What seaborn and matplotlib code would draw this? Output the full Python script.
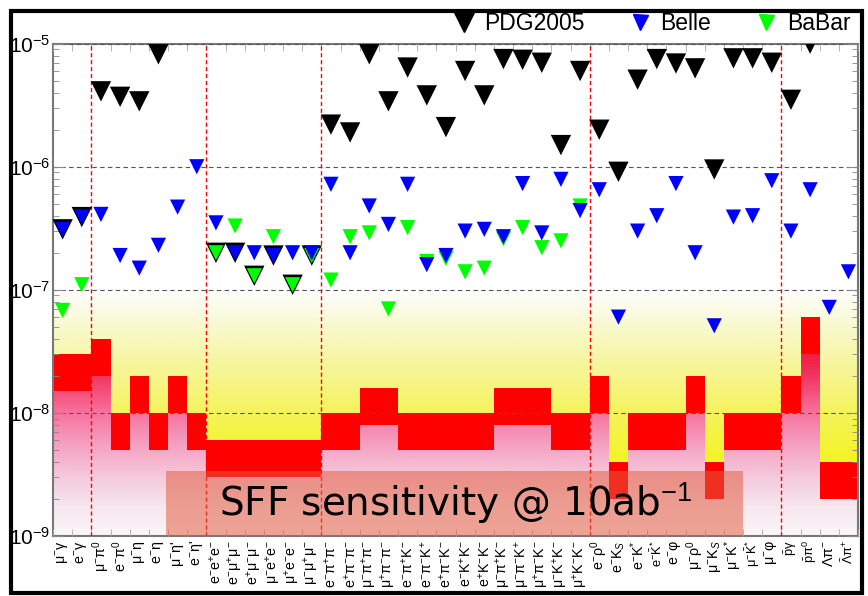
import numpy as np
import pandas as pd
import matplotlib
matplotlib.use("Agg")
import matplotlib.pyplot as plt
import seaborn as sns
from matplotlib.colors import LinearSegmentedColormap
from matplotlib.path import Path
from matplotlib.lines import Line2D
from matplotlib.patches import Rectangle
from matplotlib.ticker import LogLocator, NullFormatter, FixedLocator

plt.rcParams['font.family'] = ['Liberation Sans', 'DejaVu Sans']
plt.rcParams['mathtext.fontset'] = 'custom'
plt.rcParams['mathtext.rm'] = 'Liberation Sans'
plt.rcParams['mathtext.it'] = 'Liberation Sans:italic'
plt.rcParams['mathtext.bf'] = 'Liberation Sans:bold'

nan = np.nan

# tau LFV decay modes (x axis)
modes = [
    "μ$^{-}$γ", "e$^{-}$γ",
    "μ$^{-}$π$^{0}$", "e$^{-}$π$^{0}$", "μ$^{-}$η", "e$^{-}$η", "μ$^{-}$η'", "e$^{-}$η'",
    "e$^{-}$e$^{+}$e$^{-}$", "e$^{-}$μ$^{+}$μ$^{-}$", "e$^{+}$μ$^{-}$μ$^{-}$",
    "μ$^{-}$e$^{+}$e$^{-}$", "μ$^{+}$e$^{-}$e$^{-}$", "μ$^{-}$μ$^{+}$μ$^{-}$",
    "e$^{-}$π$^{+}$π$^{-}$", "e$^{+}$π$^{-}$π$^{-}$", "μ$^{-}$π$^{+}$π$^{-}$", "μ$^{+}$π$^{-}$π$^{-}$",
    "e$^{-}$π$^{+}$K$^{-}$", "e$^{-}$π$^{-}$K$^{+}$", "e$^{+}$π$^{-}$K$^{-}$",
    "e$^{-}$K$^{+}$K$^{-}$", "e$^{+}$K$^{-}$K$^{-}$",
    "μ$^{-}$π$^{+}$K$^{-}$", "μ$^{-}$π$^{-}$K$^{+}$", "μ$^{+}$π$^{-}$K$^{-}$",
    "μ$^{-}$K$^{+}$K$^{-}$", "μ$^{+}$K$^{-}$K$^{-}$",
    "e$^{-}$ρ$^{0}$", "e$^{-}$K$_{S}$", "e$^{-}$K$^{*}$", r"e$^{-}\bar{\mathrm{K}}^{*}$", "e$^{-}$φ",
    "μ$^{-}$ρ$^{0}$", "μ$^{-}$K$_{S}$", "μ$^{-}$K$^{*}$", r"μ$^{-}\bar{\mathrm{K}}^{*}$", "μ$^{-}$φ",
    r"$\bar{\mathrm{p}}$γ", r"$\bar{\mathrm{p}}$π$^{0}$", "Λπ$^{-}$", r"$\bar{\Lambda}$π$^{+}$",
]

# upper limits
pdg2005 = [3.1e-7, 3.9e-7,
           4.1e-6, 3.7e-6, 3.4e-6, 8.2e-6, nan, nan,
           2.0e-7, 2.0e-7, 1.3e-7, 1.9e-7, 1.1e-7, 1.9e-7,
           2.2e-6, 1.9e-6, 8.2e-6, 3.4e-6, 6.4e-6, 3.8e-6, 2.1e-6,
           6.0e-6, 3.8e-6, 7.5e-6, 7.4e-6, 7.0e-6, 1.5e-6, 6.0e-6,
           2.0e-6, 9.1e-7, 5.1e-6, 7.5e-6, 6.9e-6, 6.3e-6, 9.5e-7, 7.6e-6, 7.6e-6, 7.0e-6,
           3.5e-6, 1.0e-5, nan, nan]
belle = [3.1e-7, 3.9e-7,
         4.1e-7, 1.9e-7, 1.5e-7, 2.3e-7, 4.7e-7, 1.0e-6,
         3.5e-7, 2.0e-7, 2.0e-7, 1.9e-7, 2.0e-7, 2.0e-7,
         7.2e-7, 2.0e-7, 4.8e-7, 3.4e-7, 7.2e-7, 1.6e-7, 1.9e-7,
         3.0e-7, 3.1e-7, 2.7e-7, 7.3e-7, 2.9e-7, 7.9e-7, 4.4e-7,
         6.5e-7, 6.0e-8, 3.0e-7, 4.0e-7, 7.3e-7, 2.0e-7, 5.1e-8, 3.9e-7, 4.0e-7, 7.7e-7,
         3.0e-7, 6.5e-7, 7.2e-8, 1.4e-7]
babar = [6.8e-8, 1.1e-7,
         nan, nan, nan, nan, nan, nan,
         2.0e-7, 3.3e-7, 1.3e-7, 2.7e-7, 1.1e-7, 1.9e-7,
         1.2e-7, 2.7e-7, 2.9e-7, 7.0e-8, 3.2e-7, 1.7e-7, 1.8e-7,
         1.4e-7, 1.5e-7, 2.6e-7, 3.2e-7, 2.2e-7, 2.5e-7, 4.8e-7,
         nan, nan, nan, nan, nan, nan, nan, nan, nan, nan,
         nan, nan, nan, nan]

# SFF sensitivity band @ 10 ab^-1
sff_high = [3e-8, 3e-8,
            4e-8, 1e-8, 2e-8, 1e-8, 2e-8, 1e-8,
            6e-9, 6e-9, 6e-9, 6e-9, 6e-9, 6e-9,
            1e-8, 1e-8, 1.6e-8, 1.6e-8, 1e-8, 1e-8, 1e-8, 1e-8, 1e-8,
            1.6e-8, 1.6e-8, 1.6e-8, 1e-8, 1e-8,
            2e-8, 4e-9, 1e-8, 1e-8, 1e-8, 2e-8, 4e-9, 1e-8, 1e-8, 1e-8,
            2e-8, 6e-8, 4e-9, 4e-9]
sff_low = [1.5e-8, 1.5e-8,
           2e-8, 5e-9, 1e-8, 5e-9, 1e-8, 5e-9,
           3e-9, 3e-9, 3e-9, 3e-9, 3e-9, 3e-9,
           5e-9, 5e-9, 8e-9, 8e-9, 5e-9, 5e-9, 5e-9, 5e-9, 5e-9,
           8e-9, 8e-9, 8e-9, 5e-9, 5e-9,
           1e-8, 2e-9, 5e-9, 5e-9, 5e-9, 1e-8, 2e-9, 5e-9, 5e-9, 5e-9,
           1e-8, 3e-8, 2e-9, 2e-9]

group_bounds = [1.5, 7.5, 13.5, 27.5, 37.5]
ymin, ymax = 1e-9, 1e-5

pos = np.arange(len(modes))
fig = plt.figure(figsize=(8.68, 5.96), dpi=100)
ax = fig.add_axes([0.0611, 0.1007, 0.9274, 0.826])
ax.set_yscale("log")
ax.set_xlim(-0.5, len(modes) - 0.5)
ax.set_ylim(ymin, ymax)

# background gradients (in axes fraction, 0 = 1e-9, 1 = 1e-5)
yellow_cmap = LinearSegmentedColormap.from_list("yel", [
    (0.0, "#f4f41e"), (0.14, "#f4f41e"), (0.25, "#f5f35c"),
    (0.38, "#f7f7b2"), (0.46, "#fbfbe6"), (0.5, "#ffffff"), (1.0, "#ffffff")])
pink_cmap = LinearSegmentedColormap.from_list("pnk", [
    (0.0, "#faf6f8"), (0.06, "#f7e6ee"), (0.12, "#f5c8dc"), (0.18, "#f5a3c3"),
    (0.25, "#f7719c"), (0.33, "#f2305c"), (0.40, "#e6122f"), (1.0, "#e6122f")])
fr = np.linspace(0, 1, 600)
ax.imshow(yellow_cmap(fr)[:, None, :], extent=(0, 1, 0, 1), transform=ax.transAxes,
          origin="lower", aspect="auto", zorder=0.5)
pink_im = ax.imshow(pink_cmap(fr)[:, None, :], extent=(0, 1, 0, 1), transform=ax.transAxes,
                    origin="lower", aspect="auto", zorder=0.6)
low = np.array(sff_low)
high = np.array(sff_high)
pink_bars = ax.bar(pos, low - ymin, bottom=ymin, width=1.0, color="none", linewidth=0)
clip = Path.make_compound_path(*[b.get_path().transformed(b.get_patch_transform()) for b in pink_bars])
pink_im.set_clip_path(clip, transform=ax.transData)

ax.bar(pos, high - low, bottom=low, width=1.0, color="#ff0000", linewidth=0, zorder=1)

ax.grid(axis="y", which="major", linestyle=(0, (4, 3)), color="#555555", linewidth=0.8)
ax.set_axisbelow(False)
for b in group_bounds:
    ax.axvline(b, color="red", linestyle=(0, (3, 2)), linewidth=1, zorder=3)

# SFF box
ax.add_patch(Rectangle((0.14, 0), 0.717, 0.133, transform=ax.transAxes,
                       facecolor="#e25c3e", alpha=0.53, linewidth=0, zorder=4))
ax.text(0.5, 0.066, "SFF sensitivity @ 10ab$^{-1}$", transform=ax.transAxes,
        ha="center", va="center", fontsize=28, family="DejaVu Sans", zorder=6)

# limits
frames = []
for name, vals in [("PDG2005", pdg2005), ("BaBar", babar), ("Belle", belle)]:
    frames.append(pd.DataFrame({"pos": pos, "limit": vals, "exp": name}))
df = pd.concat(frames, ignore_index=True).dropna()
colors = {"PDG2005": "black", "Belle": "#0000ff", "BaBar": "#00ff00"}
sns.scatterplot(data=df, x="pos", y="limit", hue="exp", size="exp",
                sizes={"PDG2005": 215, "Belle": 120, "BaBar": 120},
                palette=colors, marker="v", linewidth=0, legend=False, ax=ax, zorder=5)

ax.set_xlim(-0.5, len(modes) - 0.5)
ax.set_ylim(ymin, ymax)
ax.set_xlabel("")
ax.set_ylabel("")

ax.set_xticks(pos)
ax.set_xticklabels(modes, rotation=90, fontsize=10.3)
for t in ax.get_xticklabels():
    if "bar" in t.get_text():
        t.set_fontsize(9.3)
ax.xaxis.set_minor_locator(FixedLocator(np.arange(-0.5, len(modes), 1.0)))
ax.tick_params(axis="x", which="major", length=0, pad=3)
ax.tick_params(axis="x", which="minor", direction="in", length=5, color="#aaaaaa",
               top=True, bottom=True)
decades = [1e-9, 1e-8, 1e-7, 1e-6, 1e-5]
ax.set_yticks(decades)
ax.set_yticklabels(["$10^{%d}$" % int(np.log10(d)) for d in decades])
ax.yaxis.set_minor_locator(LogLocator(base=10, subs=np.arange(2, 10)))
ax.yaxis.set_minor_formatter(NullFormatter())
ax.tick_params(axis="y", which="both", direction="in", left=True, right=True, color="#888888")
ax.tick_params(axis="y", which="major", length=8, labelsize=15, pad=2)
ax.tick_params(axis="y", which="minor", length=4)
for s in ax.spines.values():
    s.set_color("#777777")
    s.set_linewidth(1.5)

handles = [Line2D([], [], marker="v", linestyle="", color=colors[n], markersize=m)
           for n, m in [("PDG2005", 14.4), ("Belle", 10.8), ("BaBar", 10.8)]]
fig.legend(handles, ["PDG2005", "Belle", "BaBar"], ncol=3, loc="center left",
           bbox_to_anchor=(0.521, 0.96), frameon=False, fontsize=16.5,
           handlelength=1.0, handletextpad=0.4, columnspacing=1.9,
           borderpad=0, borderaxespad=0)

fig.add_artist(Rectangle((11 / 868, 3 / 596), 851 / 868, 582 / 596, transform=fig.transFigure,
                         fill=False, edgecolor="black", linewidth=3))

fig.savefig("out.png", dpi=100)
